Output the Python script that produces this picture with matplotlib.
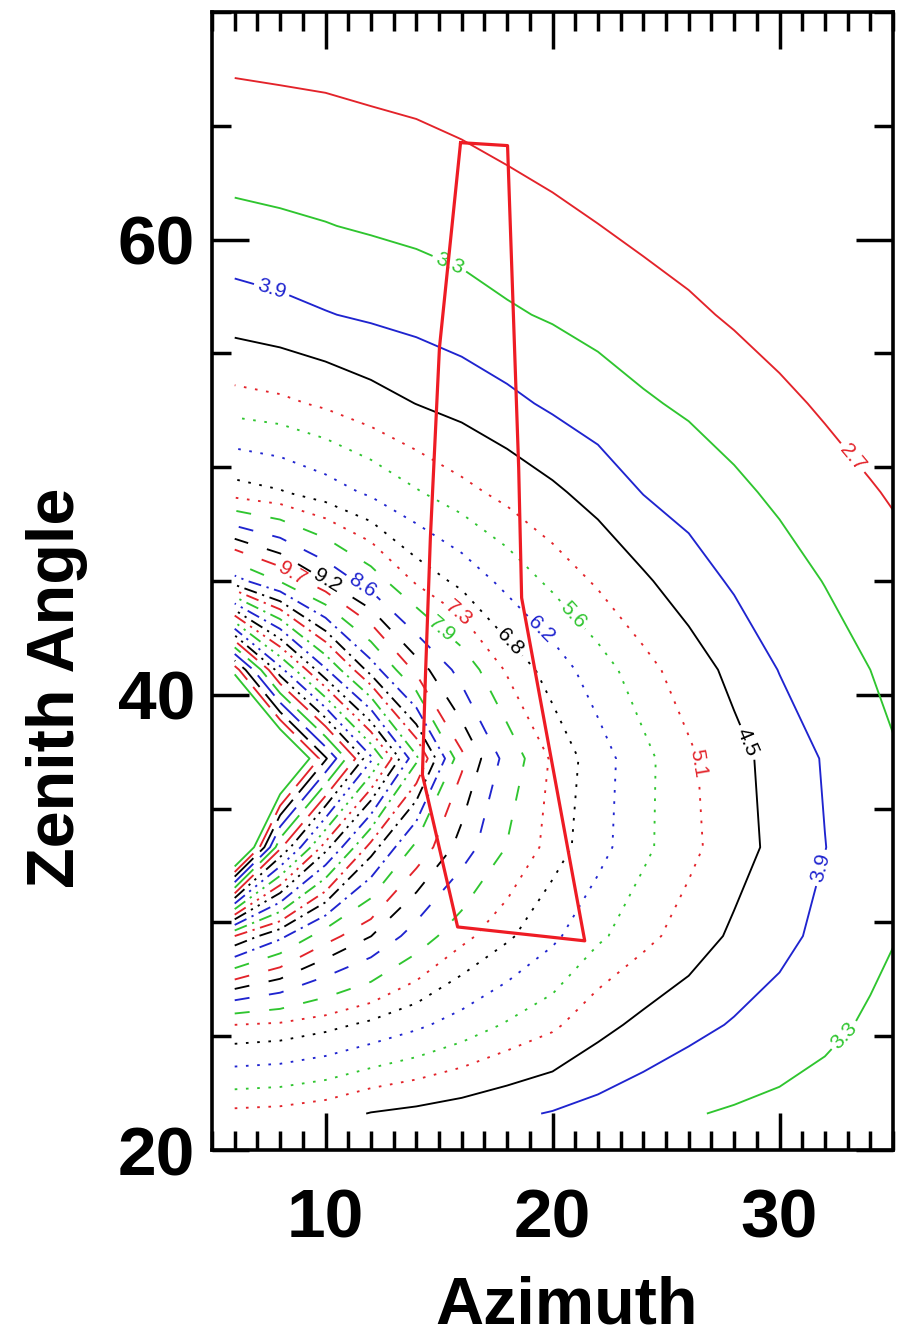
import numpy as np
import matplotlib
matplotlib.use("Agg")
import matplotlib.pyplot as plt
from matplotlib.ticker import MultipleLocator

plt.rcParams['font.family'] = ['Liberation Sans', 'DejaVu Sans']

# contour levels; colour and dash pattern cycle with the level index
levels = [2.7, 3.3, 3.9, 4.5, 5.1, 5.6, 6.2, 6.8, 7.3, 7.9, 8.6, 9.2, 9.7,
          10.3, 10.9, 11.5, 12.0, 12.6, 13.2, 13.8, 14.3, 14.9, 15.5, 16.1,
          16.6, 17.2, 17.8, 18.4, 18.9, 19.5]

# sampling grid of the field
azimuth = [6, 8, 10, 12, 14, 16, 18, 20, 22, 24, 26, 28, 30, 32, 34, 36]
zenith = [21.6, 25.5, 29.4, 33.3, 37.2, 41.1, 45.0, 48.9, 52.8, 56.7, 60.6,
          64.5, 68.4, 72.3]

# field values, one row per zenith, one column per azimuth
field = [
    [4.96, 4.91, 4.76, 4.47, 4.34, 4.19, 4.02, 3.86, 3.68, 3.51, 3.34, 3.24, 3.14, 3.01, 2.83, 2.62],
    [7.30, 7.21, 6.98, 6.67, 6.32, 5.94, 5.54, 5.21, 4.70, 4.34, 4.08, 3.85, 3.67, 3.46, 3.21, 2.95],
    [12.00, 11.05, 9.96, 9.21, 8.29, 7.47, 6.90, 6.33, 5.70, 5.27, 4.84, 4.39, 4.06, 3.75, 3.48, 3.19],
    [21.56, 16.72, 14.01, 11.77, 10.14, 8.96, 7.87, 7.07, 6.43, 5.71, 5.25, 4.77, 4.30, 3.91, 3.57, 3.25],
    [24.24, 21.37, 18.49, 15.62, 12.73, 9.84, 8.35, 7.20, 6.50, 5.75, 5.20, 4.70, 4.25, 3.85, 3.51, 3.21],
    [19.24, 15.71, 13.28, 11.25, 9.54, 8.34, 7.22, 6.55, 5.85, 5.29, 4.81, 4.33, 3.88, 3.59, 3.30, 3.06],
    [11.15, 10.26, 9.22, 8.26, 7.21, 6.63, 6.01, 5.46, 5.02, 4.59, 4.18, 3.82, 3.55, 3.28, 3.06, 2.83],
    [7.05, 6.85, 6.50, 6.09, 5.65, 5.27, 4.93, 4.61, 4.27, 3.88, 3.66, 3.42, 3.19, 2.97, 2.75, 2.53],
    [5.33, 5.22, 5.01, 4.75, 4.49, 4.29, 4.05, 3.80, 3.58, 3.37, 3.21, 3.03, 2.83, 2.62, 2.41, 2.18],
    [4.21, 4.08, 3.93, 3.81, 3.70, 3.55, 3.37, 3.24, 3.10, 2.95, 2.80, 2.63, 2.45, 2.25, 2.02, 1.82],
    [3.45, 3.39, 3.32, 3.24, 3.16, 3.07, 2.96, 2.84, 2.71, 2.57, 2.44, 2.28, 2.11, 1.92, 1.72, 1.51],
    [2.98, 2.94, 2.91, 2.84, 2.78, 2.69, 2.58, 2.47, 2.33, 2.19, 2.04, 1.91, 1.78, 1.61, 1.42, 1.22],
    [2.56, 2.53, 2.49, 2.44, 2.39, 2.33, 2.21, 2.10, 1.98, 1.83, 1.68, 1.52, 1.38, 1.26, 1.11, 1.00],
    [2.14, 2.11, 2.08, 2.03, 1.98, 1.94, 1.85, 1.72, 1.61, 1.49, 1.33, 1.18, 1.01, 1.00, 1.00, 1.00],
]

# outline of the selected region
region_az = [15.95, 18.02, 18.51, 18.64, 21.42, 15.82, 14.27, 14.40, 14.62, 15.02, 15.95]
region_zen = [64.26, 64.13, 49.98, 44.26, 29.19, 29.80, 36.48, 40.75, 46.90, 55.25, 64.26]

# contour labels: (level, azimuth, zenith) near which each label sits
label_spots = [(2.7, 33.2, 50.4), (3.3, 15.4, 58.8), (3.3, 33.0, 24.9), (3.9, 7.6, 57.7),
               (3.9, 31.8, 32.4), (4.5, 28.8, 38.0), (5.1, 26.5, 37.0), (5.6, 21.2, 43.8),
               (6.2, 19.5, 42.9), (6.8, 18.3, 42.5), (7.3, 15.9, 43.6), (7.9, 15.3, 43.1),
               (8.6, 11.6, 44.8), (9.2, 10.0, 44.9), (9.7, 8.45, 45.2)]

cycle_colors = ['#000000', '#e3232a', '#2fc52f', '#1f24cf']
dash_cycle = ['solid', (0, (1.4, 4.6)), (0, (8, 10.5)), (0, (7, 3, 1.2, 3)),
              (0, (7, 3, 1.2, 3, 1.2, 3, 1.2, 3)), (0, (14, 5))]

Z = np.array(field)

fig = plt.figure(figsize=(9.03, 13.36), dpi=100)
ax = fig.add_axes([212 / 903, 1 - 1150 / 1336, 681 / 903, 1138 / 1336])

for i, lev in enumerate(levels):
    cs = ax.contour(azimuth, zenith, Z, levels=[lev],
                    colors=[cycle_colors[(i + 1) % 4]],
                    linestyles=[dash_cycle[((i + 1) // 5) % 6]], linewidths=1.35)
    spots = [(xa, ya) for lv, xa, ya in label_spots if lv == lev]
    if spots:
        cs.clabel(manual=spots, inline=True, inline_spacing=4, fontsize=15, fmt='%.1f')

ax.plot(region_az, region_zen, color='#ee1c24', lw=2.3, zorder=5)

ax.set_xlim(5, 35)
ax.set_ylim(20, 70)
ax.set_xticks([10, 20, 30])
ax.set_yticks([20, 40, 60])
ax.xaxis.set_minor_locator(MultipleLocator(1))
ax.yaxis.set_minor_locator(MultipleLocator(5))
ax.tick_params(which='both', direction='in', top=True, right=True, width=2.5, colors='black')
ax.tick_params(which='major', length=26.5)
ax.tick_params(which='minor', length=13.5)
ax.tick_params(axis='x', which='major', pad=27)
ax.tick_params(axis='y', which='major', pad=12)
for lab in ax.get_xticklabels() + ax.get_yticklabels():
    lab.set_fontsize(50)
    lab.set_fontweight('bold')
for sp in ax.spines.values():
    sp.set_linewidth(2.6)

fig.text(567 / 903, 1 - 1324 / 1336, 'Azimuth', ha='center', va='baseline',
         fontsize=48, fontweight='bold')
fig.text(74 / 903, 1 - 688 / 1336, 'Zenith Angle', ha='center', va='baseline',
         rotation=90, rotation_mode='anchor', fontsize=48, fontweight='bold')

fig.savefig('out.png', dpi=100)
